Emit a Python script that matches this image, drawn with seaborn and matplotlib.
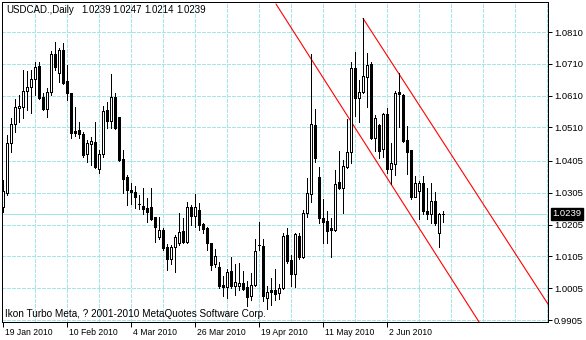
import numpy as np
import pandas as pd
import matplotlib
matplotlib.use("Agg")
import matplotlib.pyplot as plt
import matplotlib.transforms as mtransforms
import seaborn as sns

# ---------------- data ----------------
symbol_title = "USDCAD.,Daily"
copyright_text = "Ikon Turbo Meta, ? 2001-2010 MetaQuotes Software Corp."
start_date = "2010-01-19"

opens = [1.0260, 1.0305, 1.0460, 1.0521, 1.0571, 1.0573, 1.0625, 1.0638, 1.0662, 1.0703,
         1.0605, 1.0567, 1.0621, 1.0741, 1.0680, 1.0753, 1.0656, 1.0617, 1.0500, 1.0502,
         1.0490, 1.0427, 1.0458, 1.0464, 1.0380, 1.0427, 1.0565, 1.0531, 1.0605, 1.0542,
         1.0410, 1.0353, 1.0314, 1.0308, 1.0270, 1.0263, 1.0258, 1.0259, 1.0228, 1.0167,
         1.0188, 1.0135, 1.0096, 1.0134, 1.0146, 1.0185, 1.0151, 1.0261, 1.0233, 1.0251,
         1.0207, 1.0194, 1.0146, 1.0081, 1.0073, 1.0015, 1.0010, 1.0060, 1.0012, 1.0012,
         1.0021, 1.0010, 0.9981, 1.0014, 1.0141, 1.0138, 0.9973, 0.9999, 0.9999, 0.9989,
         1.0005, 1.0172, 1.0093, 1.0050, 1.0169, 1.0102, 1.0240, 1.0301, 1.0517, 1.0353,
         1.0225, 1.0216, 1.0194, 1.0188, 1.0338, 1.0319, 1.0385, 1.0434, 1.0696, 1.0602,
         1.0621, 1.0670, 1.0709, 1.0478, 1.0518, 1.0441, 1.0552, 1.0379, 1.0395, 1.0622,
         1.0612, 1.0471, 1.0439, 1.0292, 1.0311, 1.0335, 1.0248, 1.0237, 1.0279, 1.0178,
         1.0239]
highs = [1.0345, 1.0486, 1.0539, 1.0599, 1.0612, 1.0691, 1.0688, 1.0691, 1.0717, 1.0717,
         1.0617, 1.0633, 1.0751, 1.0778, 1.0759, 1.0774, 1.0706, 1.0619, 1.0575, 1.0528,
         1.0497, 1.0471, 1.0481, 1.0527, 1.0439, 1.0578, 1.0591, 1.0678, 1.0619, 1.0544,
         1.0439, 1.0361, 1.0336, 1.0326, 1.0298, 1.0319, 1.0287, 1.0319, 1.0230, 1.0228,
         1.0193, 1.0144, 1.0141, 1.0172, 1.0240, 1.0225, 1.0277, 1.0266, 1.0301, 1.0274,
         1.0209, 1.0198, 1.0148, 1.0127, 1.0086, 1.0044, 1.0064, 1.0102, 1.0081, 1.0083,
         1.0060, 1.0026, 1.0052, 1.0159, 1.0214, 1.0159, 1.0012, 1.0036, 1.0064, 1.0018,
         1.0179, 1.0193, 1.0109, 1.0178, 1.0178, 1.0251, 1.0350, 1.0741, 1.0567, 1.0387,
         1.0284, 1.0246, 1.0225, 1.0376, 1.0437, 1.0408, 1.0536, 1.0717, 1.0746, 1.0659,
         1.0853, 1.0745, 1.0717, 1.0549, 1.0521, 1.0556, 1.0570, 1.0460, 1.0626, 1.0680,
         1.0615, 1.0515, 1.0439, 1.0357, 1.0343, 1.0357, 1.0319, 1.0336, 1.0308, 1.0242,
         1.0247]
lows = [1.0244, 1.0298, 1.0434, 1.0497, 1.0528, 1.0539, 1.0565, 1.0555, 1.0612, 1.0600,
        1.0565, 1.0542, 1.0612, 1.0691, 1.0654, 1.0647, 1.0596, 1.0476, 1.0483, 1.0476,
        1.0418, 1.0402, 1.0392, 1.0382, 1.0366, 1.0418, 1.0507, 1.0507, 1.0505, 1.0406,
        1.0305, 1.0266, 1.0270, 1.0256, 1.0253, 1.0238, 1.0212, 1.0219, 1.0151, 1.0159,
        1.0125, 1.0062, 1.0081, 1.0057, 1.0141, 1.0148, 1.0148, 1.0204, 1.0198, 1.0188,
        1.0179, 1.0125, 1.0062, 1.0071, 1.0005, 0.9980, 0.9973, 1.0005, 0.9984, 0.9999,
        0.9999, 0.9949, 0.9968, 1.0012, 1.0125, 0.9966, 0.9939, 0.9952, 0.9968, 0.9970,
        1.0001, 1.0085, 1.0012, 1.0010, 1.0096, 1.0099, 1.0228, 1.0277, 1.0402, 1.0209,
        1.0146, 1.0148, 1.0104, 1.0186, 1.0316, 1.0242, 1.0382, 1.0399, 1.0546, 1.0528,
        1.0617, 1.0575, 1.0473, 1.0437, 1.0413, 1.0416, 1.0366, 1.0332, 1.0361, 1.0511,
        1.0465, 1.0364, 1.0285, 1.0290, 1.0221, 1.0238, 1.0221, 1.0209, 1.0204, 1.0133,
        1.0214]
closes = [1.0310, 1.0460, 1.0521, 1.0573, 1.0578, 1.0625, 1.0638, 1.0662, 1.0699, 1.0602,
          1.0567, 1.0621, 1.0741, 1.0699, 1.0753, 1.0651, 1.0617, 1.0494, 1.0494, 1.0490,
          1.0423, 1.0462, 1.0468, 1.0387, 1.0427, 1.0563, 1.0531, 1.0605, 1.0507, 1.0408,
          1.0347, 1.0314, 1.0308, 1.0291, 1.0270, 1.0255, 1.0245, 1.0222, 1.0196, 1.0188,
          1.0130, 1.0096, 1.0134, 1.0167, 1.0183, 1.0151, 1.0261, 1.0233, 1.0261, 1.0204,
          1.0191, 1.0146, 1.0078, 1.0106, 1.0012, 1.0008, 1.0057, 1.0012, 1.0024, 1.0021,
          1.0003, 0.9978, 1.0014, 1.0123, 1.0141, 0.9981, 0.9992, 0.9992, 0.9987, 1.0005,
          1.0169, 1.0091, 1.0050, 1.0175, 1.0104, 1.0240, 1.0303, 1.0521, 1.0413, 1.0225,
          1.0214, 1.0186, 1.0188, 1.0332, 1.0319, 1.0389, 1.0432, 1.0696, 1.0602, 1.0622,
          1.0672, 1.0706, 1.0476, 1.0539, 1.0437, 1.0552, 1.0379, 1.0397, 1.0617, 1.0614,
          1.0468, 1.0434, 1.0292, 1.0335, 1.0335, 1.0248, 1.0237, 1.0279, 1.0209, 1.0237,
          1.0239]

price_ticks = [1.0810, 1.0710, 1.0610, 1.0510, 1.0405, 1.0305, 1.0205, 1.0105, 1.0005, 0.9905]
price_tick_labels = ["1.0810", "1.0710", "1.0610", "1.0510", "1.0405",
                     "1.0305", "1.0205", "1.0105", "1.0005", "0.9905"]
date_label_every = 16
grid_every = 8
bid_price = 1.0239

# trend channel (bar index, price)
upper_x = [90, 136.2]
upper_y = [1.0853, 0.9956]
lower_x = [68.25, 119.1]
lower_y = [1.0898, 0.9897]

# ---------------- frame ----------------
df = pd.DataFrame({"open": opens, "high": highs, "low": lows, "close": closes})
df["k"] = np.arange(len(df))
df["date"] = pd.bdate_range(start_date, periods=len(df))
df["bull"] = df["close"] >= df["open"]

W, H = 586, 340
sns.set_theme(style="white")
plt.rcParams["font.family"] = ["Liberation Sans", "DejaVu Sans"]
plt.rcParams["axes.linewidth"] = 0.72

fig = plt.figure(figsize=(W / 100, H / 100), dpi=100)
fig.patch.set_facecolor("white")
ax = fig.add_axes([2 / W, 18 / H, 546 / W, 320 / H])
ax.set_facecolor("white")

c = 0.000314236
ax.set_xlim(-0.25, 136.25)
ax.set_ylim(1.0810 - 290 * c, 1.0810 + 30 * c)

grid_col = "#a6e6e6"
px = 0.72  # one pixel in points
for gx in range(grid_every, 137, grid_every):
    ax.axvline(gx, color=grid_col, lw=px, ls=(0, (3, 2)), zorder=0, antialiased=False)
for gy in price_ticks:
    ax.axhline(gy, color=grid_col, lw=px, ls=(0, (3, 2)), zorder=0, antialiased=False)

# bid line
ax.axhline(bid_price, color="#a6e6e6", lw=px, zorder=0.5, antialiased=False)

# channel lines
def extend(xs, ys, x_to):
    slope = (ys[1] - ys[0]) / (xs[1] - xs[0])
    return [xs[0], x_to], [ys[0], ys[0] + slope * (x_to - xs[0])]

ux, uy = extend(upper_x, upper_y, 140)
lx, ly = extend(lower_x, lower_y, 140)
sns.lineplot(x=ux, y=uy, ax=ax, color="#ff0000", lw=0.8, zorder=1, estimator=None, sort=False)
sns.lineplot(x=lx, y=ly, ax=ax, color="#ff0000", lw=0.8, zorder=1, estimator=None, sort=False)

# candles
ax.vlines(df["k"], df["low"], df["high"], color="black", lw=px, zorder=2, antialiased=False)
bottoms = np.minimum(df["open"], df["close"])
heights = np.maximum(np.abs(df["close"] - df["open"]), 1e-6)
faces = np.where(df["bull"], "white", "black")
ax.bar(df["k"], heights, bottom=bottoms, width=0.5, color=faces,
       edgecolor="black", linewidth=px, zorder=3, antialiased=False)

# spines
for s in ax.spines.values():
    s.set_color("black")
    s.set_linewidth(px)

# y ticks on right
ax.yaxis.tick_right()
ax.set_yticks(price_ticks)
ax.set_yticklabels(price_tick_labels)
ax.tick_params(axis="y", which="major", right=True, left=False, length=3, width=px,
               pad=1.2, labelsize=6.8, colors="black", direction="out")

# x ticks
date_idx = list(range(0, len(df), date_label_every))
ax.set_xticks(date_idx)
ax.set_xticklabels([f"{d.day} {d.strftime('%b %Y')}" for d in df["date"].iloc[date_idx]])
ax.tick_params(axis="x", which="major", bottom=True, length=3.6, width=px,
               pad=1.0, labelsize=6.2, colors="black", direction="out")
offset = mtransforms.ScaledTranslation(2 / 100, 0, fig.dpi_scale_trans)
for lab in ax.get_xticklabels():
    lab.set_horizontalalignment("left")
    lab.set_transform(lab.get_transform() + offset)
ax.grid(False)

# bid label box
trans = mtransforms.blended_transform_factory(ax.transAxes, ax.transData)
ax.text(1.0, bid_price, f"{bid_price:.4f}",
        transform=trans + mtransforms.ScaledTranslation(4 / 100, 0, fig.dpi_scale_trans),
        ha="left", va="center", fontsize=6.8, color="white",
        bbox=dict(boxstyle="square,pad=0.15", fc="black", ec="black"), clip_on=False, zorder=5)

# header text
last = df.iloc[-1]
fig.text(6 / W, 1 - 10 / H, symbol_title, ha="left", va="center", fontsize=7.0, color="black")
for xp, val in zip([81.7, 112.7, 144, 176.7], [last.open, last.high, last.low, last.close]):
    fig.text(xp / W, 1 - 10 / H, f"{val:.4f}", ha="left", va="center", fontsize=7.0, color="black")

fig.text(5 / W, 1 - 314 / H, copyright_text, ha="left", va="center", fontsize=7.2, color="black")

fig.savefig("out.png", dpi=100, facecolor="white")
